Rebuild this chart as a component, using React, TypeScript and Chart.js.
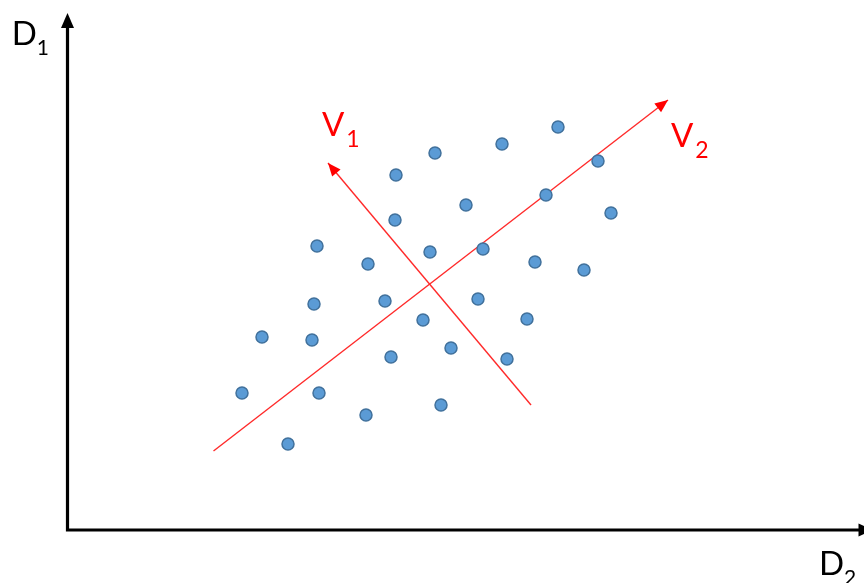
import { useEffect, useRef } from "react";
import { Chart, registerables } from "chart.js";

Chart.register(...registerables);

// Scatter observations (D2 horizontal, D1 vertical)
const pointsX = [17.45, 19.45, 22.05, 24.95, 24.65, 24.45, 25.15, 29.85, 30.05, 31.75, 32.35, 32.85, 32.75, 35.55, 36.25, 36.75, 37.35, 38.35, 39.85, 41.05, 41.55, 43.45, 43.95, 45.95, 46.75, 47.85, 49.05, 51.65, 53.05, 54.35];
const pointsY = [13.7, 19.3, 8.6, 28.4, 22.6, 19.0, 13.7, 11.5, 26.6, 22.9, 17.3, 35.5, 31.0, 21.0, 27.8, 37.7, 12.5, 18.2, 32.5, 23.1, 28.1, 38.6, 17.1, 21.1, 26.8, 33.5, 40.3, 26.0, 36.9, 31.7];

// Principal directions (start -> arrow tip)
const v1X = [46.35, 26.05];
const v1Y = [12.5, 36.7];
const v2X = [14.6, 60.05];
const v2Y = [7.9, 43.0];

// Axis extents (arrow tips)
const axisXMax = 80.6;
const axisYMax = 51.7;

// Labels: main letter, subscript, anchor (left, baseline) in data units
const labelMain = ["D", "D", "V", "V"];
const labelSub = ["1", "2", "1", "2"];
const labelX = [-5.58, 75.15, 25.45, 60.35];
const labelY = [48.5, -4.5, 39.4, 38.3];
const labelColor = ["#000000", "#000000", "#ff0000", "#ff0000"];

function arrowHead(ctx: CanvasRenderingContext2D, fx: number, fy: number, tx: number, ty: number, len: number, half: number, color: string) {
  const dx = tx - fx;
  const dy = ty - fy;
  const d = Math.hypot(dx, dy) || 1;
  const ux = dx / d;
  const uy = dy / d;
  const bx = tx - ux * len;
  const by = ty - uy * len;
  ctx.beginPath();
  ctx.moveTo(tx, ty);
  ctx.lineTo(bx - uy * half, by + ux * half);
  ctx.lineTo(bx + uy * half, by - ux * half);
  ctx.closePath();
  ctx.fillStyle = color;
  ctx.fill();
}

const decorPlugin = {
  id: "decor",
  afterDatasetsDraw(chart: any) {
    const ctx: CanvasRenderingContext2D = chart.ctx;
    const xs = chart.scales.x;
    const ys = chart.scales.y;
    const px = (v: number) => xs.getPixelForValue(v);
    const py = (v: number) => ys.getPixelForValue(v);
    ctx.save();
    // axes
    const ox = px(0);
    const oy = py(0);
    const yTip = py(axisYMax);
    const xTip = px(axisXMax);
    ctx.strokeStyle = "#000";
    ctx.lineWidth = 3.2;
    ctx.lineCap = "butt";
    ctx.beginPath();
    ctx.moveTo(ox, oy + 1.6);
    ctx.lineTo(ox, yTip + 12);
    ctx.moveTo(ox - 1.6, oy);
    ctx.lineTo(xTip - 12, oy);
    ctx.stroke();
    arrowHead(ctx, ox, oy, ox, yTip, 15, 6.5, "#000");
    arrowHead(ctx, ox, oy, xTip, oy, 15, 6.5, "#000");
    // vector arrowheads
    arrowHead(ctx, px(v1X[0]), py(v1Y[0]), px(v1X[1]), py(v1Y[1]), 13, 5.5, "#ff0000");
    arrowHead(ctx, px(v2X[0]), py(v2Y[0]), px(v2X[1]), py(v2Y[1]), 13, 5.5, "#ff0000");
    // labels
    ctx.textBaseline = "alphabetic";
    ctx.textAlign = "left";
    for (let i = 0; i < labelMain.length; i++) {
      const lx = px(labelX[i]);
      const ly = py(labelY[i]);
      const isV = labelMain[i] === "V";
      ctx.fillStyle = labelColor[i];
      ctx.font = "33px Lato, 'Open Sans', sans-serif";
      ctx.fillText(labelMain[i], lx, ly);
      const w = ctx.measureText(labelMain[i]).width;
      ctx.font = (isV ? "23px" : "21px") + " Lato, 'Open Sans', sans-serif";
      ctx.fillText(labelSub[i], lx + w + (isV ? 2 : 0), ly + (isV ? 11 : 9.5));
    }
    ctx.restore();
  },
};

export default function App() {
  const ref = useRef<HTMLCanvasElement | null>(null);
  useEffect(() => {
    if (!ref.current) return;
    const chart = new Chart(ref.current, {
      type: "scatter",
      data: {
        datasets: [
          {
            label: "V1",
            type: "line",
            data: v1X.map((x, i) => ({ x, y: v1Y[i] })),
            borderColor: "#ff2a2a",
            borderWidth: 1.4,
            pointRadius: 0,
            fill: false,
            order: 2,
          } as any,
          {
            label: "V2",
            type: "line",
            data: v2X.map((x, i) => ({ x, y: v2Y[i] })),
            borderColor: "#ff2a2a",
            borderWidth: 1.4,
            pointRadius: 0,
            fill: false,
            order: 2,
          } as any,
          {
            label: "data",
            data: pointsX.map((x, i) => ({ x, y: pointsY[i] })),
            backgroundColor: "#5b9bd5",
            borderColor: "#41719c",
            borderWidth: 1.5,
            pointRadius: 6,
            order: 1,
          },
        ],
      },
      options: {
        animation: false,
        responsive: true,
        maintainAspectRatio: false,
        layout: { autoPadding: false, padding: { left: 67.5, right: 0, top: 0, bottom: 53 } },
        plugins: { legend: { display: false }, tooltip: { enabled: false } },
        scales: {
          x: { type: "linear", min: 0, max: 79.65, display: false },
          y: { type: "linear", min: 0, max: 53, display: false },
        },
      },
      plugins: [decorPlugin],
    });
    return () => chart.destroy();
  }, []);
  return (
    <div style={{ position: "fixed", left: 0, top: 0, width: 864, height: 583, background: "#fff" }}>
      <canvas ref={ref} />
    </div>
  );
}
